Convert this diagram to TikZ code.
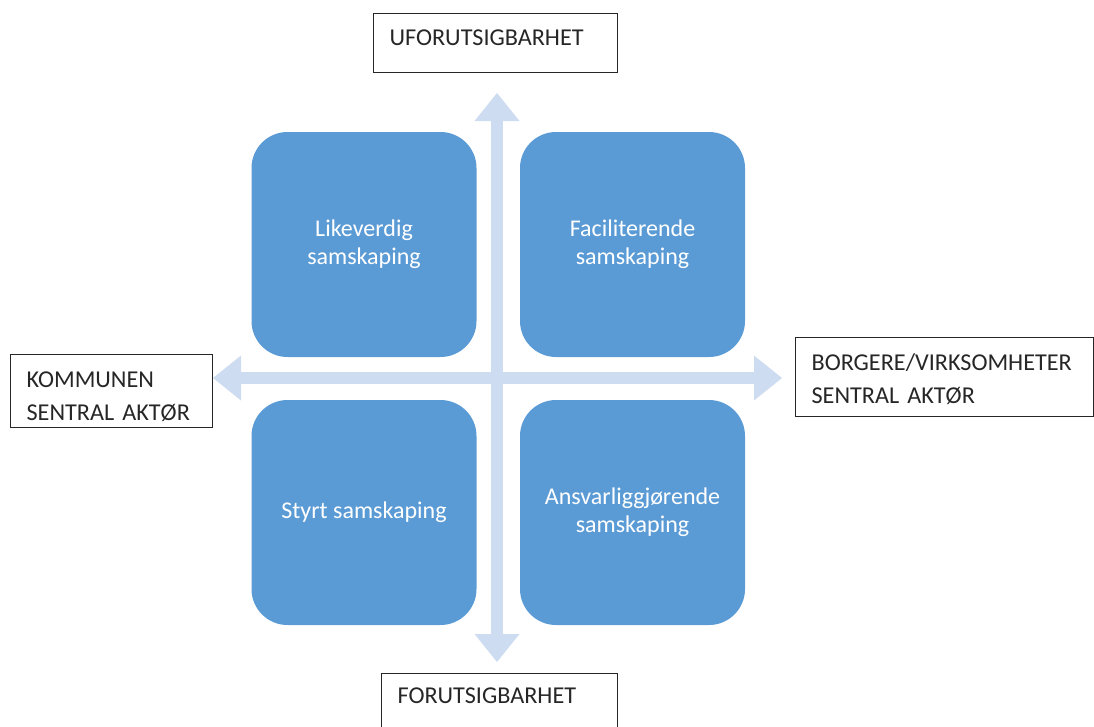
\documentclass[tikz,border=0pt]{standalone}
\usepackage{fontspec}
\setmainfont{Carlito}
\usetikzlibrary{arrows.meta}

\definecolor{quadblue}{RGB}{91,155,213}
\definecolor{axisblue}{RGB}{205,220,240}

\begin{document}
\begin{tikzpicture}[x=1pt,y=-1pt,
    quad/.style={fill=quadblue,rounded corners=36pt,minimum width=225pt,minimum height=225pt,
      text=white,align=center,font=\fontsize{24}{28}\selectfont},
    pole/.style={draw=black!85,line width=1.2pt,anchor=north west,inner xsep=16pt,inner ysep=0pt,
      align=left,text=black!85,font=\fontsize{24.2}{33}\selectfont},
    axis/.style={draw=axisblue,line width=12pt,{Triangle[length=28pt,width=45pt,line width=0pt]}-{Triangle[length=28pt,width=45pt,line width=0pt]}}]
  \useasboundingbox (0,0) rectangle (1094,726);
  % ends of the two axes
  \coordinate (north) at (497,93);
  \coordinate (south) at (497,662);
  \coordinate (west) at (213,378);
  \coordinate (east) at (782,378);
  \draw[axis] (south) -- (north);
  \draw[axis] (west) -- (east);
  % the four quadrants
  \draw
    (364,244.5) node[quad] (equal){Likeverdig\\samskaping}
    (632.5,244.5) node[quad] (facil){Faciliterende\\samskaping}
    (364,512.5) node[quad] (steer){Styrt samskaping}
    (632.5,512.5) node[quad] (account){Ansvarliggjørende\\samskaping};
  % labels at the axis ends
  \draw
    (373,13) node[pole,text width=212pt,text height=32pt,text depth=27pt] (unpred){UFORUTSIGBARHET}
    (381,673) node[pole,text width=204pt,text height=30pt,text depth=40pt] (pred){FORUTSIGBARHET}
    (10,354) node[pole,text width=170pt,text height=33pt,text depth=40pt] (municip){KOMMUNEN\\SENTRAL AKTØR}
    (795,337) node[pole,text width=266pt,text height=33pt,text depth=46pt] (citizens){BORGERE/VIRKSOMHETER\\SENTRAL AKTØR};
\end{tikzpicture}
\end{document}
